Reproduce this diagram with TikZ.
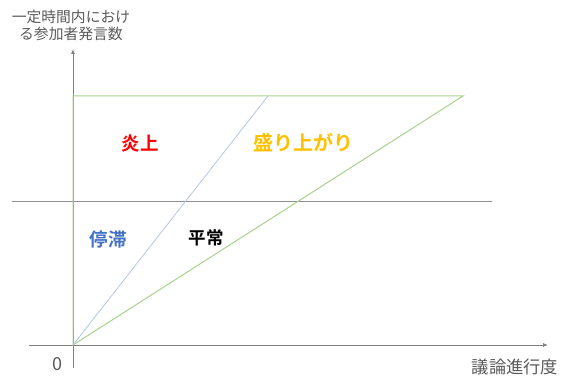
\documentclass[tikz,border=0pt]{standalone}
\usepackage{fontspec}
\newfontfamily\jp{Noto Sans CJK JP}
\newfontfamily\jpb{Noto Sans CJK JP Bold}
\usetikzlibrary{arrows.meta}
\definecolor{axisgray}{HTML}{808080}
\definecolor{midgray}{HTML}{8C8E96}
\definecolor{lgreen}{HTML}{A9D18E}
\definecolor{lblue}{HTML}{B4C7E7}
\definecolor{fire}{HTML}{FF0000}
\definecolor{hype}{HTML}{FFC000}
\definecolor{stall}{HTML}{4472C4}
\definecolor{txtgray}{HTML}{595959}
\tikzset{
  axis/.style={draw=axisgray, line width=0.8pt, -{Latex[length=5pt,width=4pt]}},
  region/.style={font=\jpb\fontsize{18.5}{18.5}\selectfont, inner sep=0pt},
  axlabel/.style={font=\jp\fontsize{14.8}{17}\selectfont, text=txtgray, align=center, inner sep=0pt},
}
\begin{document}
\begin{tikzpicture}[x=1pt,y=-1pt]
\useasboundingbox (0,0) rectangle (566,377);
% coordinates
\coordinate (o) at (73,345);
\coordinate (ybot) at (73,368);
\coordinate (ytop) at (73,49);
\coordinate (xleft) at (29,345);
\coordinate (xright) at (548,345);
\coordinate (mleft) at (12,202);
\coordinate (mright) at (492,202);
\coordinate (tl) at (73,96);
\coordinate (tr) at (463,96);
\coordinate (bt) at (268,96);
% axes
\draw[axis] (ybot) -- (ytop);
\draw[axis] (xleft) -- (xright);
% middle threshold line
\draw[draw=midgray, line width=1pt] (mleft) -- (mright);
% green triangle
\draw[draw=lgreen, line width=1pt] (o) -- (tl) -- (tr) -- cycle;
% blue line
\draw[draw=lblue, line width=0.8pt] (o) -- (bt);
% labels
\node[region, text=fire] (enjo) at (140,143) {炎上};
\node[region, text=hype, font=\jpb\fontsize{20}{20}\selectfont] (moriagari) at (303,143) {盛り上がり};
\node[region, text=stall] (teitai) at (108,240) {停滞};
\node[region, text=black, font=\jpb\fontsize{17.5}{17.5}\selectfont] (heijo) at (206,238) {平常};
\node[axlabel] (ylab) at (71,25) {一定時間内におけ\\る参加者発言数};
\node[axlabel, font=\jp\fontsize{17.3}{17.3}\selectfont] (xlab) at (515,367) {議論進行度};
\node[axlabel, font=\jp\fontsize{18}{18}\selectfont] (zero) at (57,364) {0};
\end{tikzpicture}
\end{document}
